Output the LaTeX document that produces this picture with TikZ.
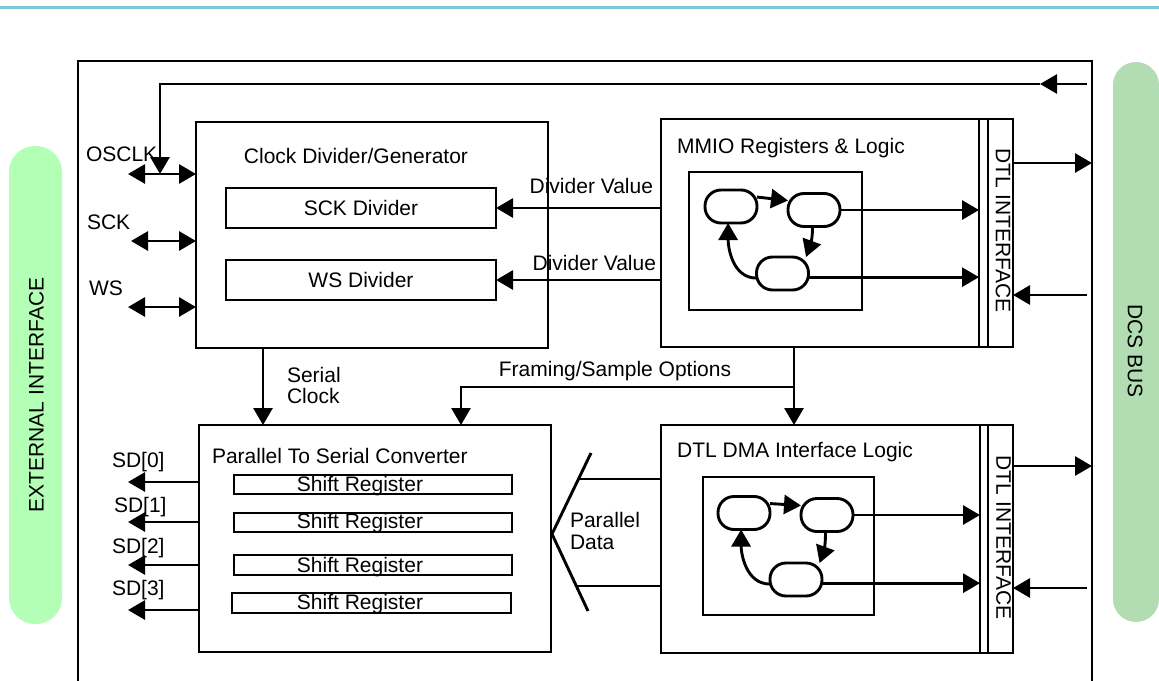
\documentclass[tikz,border=0pt]{standalone}
\usepackage{fontspec}
\setmainfont{Liberation Sans}
\usetikzlibrary{arrows.meta,calc}
\definecolor{toplinec}{RGB}{124,202,216}
\definecolor{extg}{RGB}{179,255,181}
\definecolor{dcsg}{RGB}{178,220,178}
\begin{document}
\begin{tikzpicture}[x=1pt,y=-1pt,
  every node/.style={font=\fontsize{21}{24}\selectfont, inner sep=0pt, outer sep=0pt},
  blk/.style={draw, line width=1.6pt, anchor=north west},
  thickbox/.style={draw, line width=2.9pt, anchor=north west},
  col/.style={draw=none, anchor=north west},
  state/.style={draw, line width=2.9pt, rounded corners=16pt, minimum width=52pt, minimum height=33pt},
  pill/.style={draw=none, anchor=north west},
  arr/.style={line width=2.9pt, -{Triangle[length=17pt,width=19pt]}},
  darr/.style={line width=2.9pt, {Triangle[length=17pt,width=19pt]}-{Triangle[length=17pt,width=19pt]}},
  plain/.style={line width=2.9pt},
  colline/.style={line width=2.2pt},
  lw/.style={anchor=base west},
  lc/.style={anchor=base},
  le/.style={anchor=base east}]
\useasboundingbox (0,0) rectangle (1159,680);
\clip (0,0) rectangle (1159,680);

% top rule
\draw[line width=3pt, toplinec] (0,7) -- (1159,7);

% side pills
\node[pill, fill=extg, rounded corners=26pt, minimum width=53pt, minimum height=478pt] (ext) at (9,146) {};
\node[rotate=90] (extt) at (36.5,395) {EXTERNAL INTERFACE};
\node[pill, fill=dcsg, rounded corners=23pt, minimum width=46pt, minimum height=560pt] (dcs) at (1113,62) {};
\node[rotate=-90] (dcst) at (1135,351) {DCS BUS};

% outer box
\node[blk, minimum width=1014pt, minimum height=640pt] (outer) at (78,61) {};

% clock divider
\node[blk, minimum width=352pt, minimum height=226pt] (clk) at (196,122) {};
\node[lc] (clkt) at (356,163) {Clock Divider/Generator};
\node[thickbox, minimum width=270pt, minimum height=40pt] (sckdiv) at (226,188) {SCK Divider};
\node[thickbox, minimum width=270pt, minimum height=40pt] (wsdiv) at (226,260) {WS Divider};

% MMIO
\node[blk, minimum width=352pt, minimum height=228pt] (mmio) at (661,119) {};
\node[lc] (mmiot) at (791,153) {MMIO Registers \& Logic};
\node[col, minimum width=34pt, minimum height=228pt] (dtlA) at (979,119) {};
\draw[colline] (dtlA.north west) -- (dtlA.south west);
\draw[colline] ($(dtlA.north west)+(9,0)$) -- ($(dtlA.south west)+(9,0)$);
\node[rotate=-90] (dtlAt) at (1003,230.5) {DTL INTERFACE};
\node[thickbox, minimum width=173pt, minimum height=138pt] (fsmA) at (689,172) {};
\node[state] (s1) at (731,206.5) {};
\node[state] (s2) at (814,210) {};
\node[state] (s3) at (782.5,273.5) {};
\draw[arr] (s1.20) -- (s2.160);
\draw[arr] (s2.-95) to[out=-90,in=70] (s3.35);
\draw[arr] (s3.190) to[out=180,in=-90] (s1.-100);
\draw[arr] (s2.east) -- (s2.east -| dtlA.west);
\draw[arr] (s3.-8) -- (s3.-8 -| dtlA.west);

% DMA
\node[blk, minimum width=352pt, minimum height=228pt] (dma) at (661,425) {};
\node[lc] (dmat) at (795,457) {DTL DMA Interface Logic};
\node[col, minimum width=33pt, minimum height=228pt] (dtlB) at (980,425) {};
\draw[colline] (dtlB.north west) -- (dtlB.south west);
\draw[colline] ($(dtlB.north west)+(8,0)$) -- ($(dtlB.south west)+(8,0)$);
\node[rotate=-90] (dtlBt) at (1003.5,537.5) {DTL INTERFACE};
\node[thickbox, minimum width=171pt, minimum height=138pt] (fsmB) at (703,477) {};
\node[state] (t1) at (744,513) {};
\node[state] (t2) at (827,515) {};
\node[state] (t3) at (796,579.5) {};
\draw[arr] (t1.20) -- (t2.160);
\draw[arr] (t2.-95) to[out=-90,in=70] (t3.35);
\draw[arr] (t3.190) to[out=180,in=-90] (t1.-100);
\draw[arr] (t2.east) -- (t2.east -| dtlB.west);
\draw[arr] (t3.-8) -- (t3.-8 -| dtlB.west);

% parallel to serial converter
\node[blk, minimum width=352pt, minimum height=227pt] (par) at (199,425) {};
\node[lw] (part) at (212,463) {Parallel To Serial Converter};
\node[thickbox, minimum width=278pt, minimum height=19pt] (sr1) at (234,475) {};
\node[thickbox, minimum width=278pt, minimum height=19pt] (sr2) at (234,513) {};
\node[thickbox, minimum width=278pt, minimum height=20pt] (sr3) at (234,555) {};
\node[thickbox, minimum width=279pt, minimum height=20pt] (sr4) at (232,593) {};
\node[lc] (sr1t) at (360,491) {Shift Register};
\node[lc] (sr2t) at (360,528) {Shift Register};
\node[lc] (sr3t) at (360,572) {Shift Register};
\node[lc] (sr4t) at (360,609) {Shift Register};

% left I/O
\node[lw] (oscl) at (86,161) {OSCLK};
\node[lw] (sckl) at (87,229) {SCK};
\node[lw] (wsl) at (89,295) {WS};
\coordinate (oscL) at (128,174);
\coordinate (sckL) at (131,241);
\coordinate (wsL) at (128,307);
\draw[darr] (oscL) -- (oscL -| clk.west);
\draw[darr] (sckL) -- (sckL -| clk.west);
\draw[darr] (wsL) -- (wsL -| clk.west);

% top feedback line
\coordinate (topR) at (1087,84);
\coordinate (topM) at (1040,84);
\coordinate (oscJ) at (160,174);
\draw[arr] (topR) -- (topM);
\draw[arr] (topM) -| (oscJ);

% divider values
\draw[arr] (mmio.west |- sckdiv.east) -- (sckdiv.east);
\draw[arr] (mmio.west |- wsdiv.east) -- (wsdiv.east);
\node[le] (dv1) at (653,193) {Divider Value};
\node[le] (dv2) at (656,270) {Divider Value};

% serial clock
\coordinate (scx) at (263,348);
\draw[arr] (scx) -- (scx |- par.north);
\node[lw] (sct1) at (287,382) {Serial};
\node[lw] (sct2) at (287,403) {Clock};

% framing
\coordinate (fj) at (794,387);
\coordinate (fx) at (461,387);
\draw[arr] (mmio.south -| fj) -- (dma.north -| fj);
\draw[arr] (fj) -- (fx) -- (fx |- par.north);
\node[lc] (fro) at (615,376) {Framing/Sample Options};

% SD outputs
\node[lw] (sd0l) at (112,467) {SD[0]};
\node[lw] (sd1l) at (114,512) {SD[1]};
\node[lw] (sd2l) at (112,553) {SD[2]};
\node[lw] (sd3l) at (112,595) {SD[3]};
\coordinate (sd0) at (128,482);
\coordinate (sd1) at (128,522);
\coordinate (sd2) at (128,565);
\coordinate (sd3) at (128,610);
\draw[arr] (sd0 -| par.west) -- (sd0);
\draw[arr] (sd1 -| par.west) -- (sd1);
\draw[arr] (sd2 -| par.west) -- (sd2);
\draw[arr] (sd3 -| par.west) -- (sd3);

% parallel data chevron
\coordinate (cu) at (591,453);
\coordinate (cv) at (552,534);
\coordinate (cl) at (588,611);
\draw[plain] (cu) -- (cv) -- (cl);
\coordinate (pd1) at (578.5,479);
\coordinate (pd2) at (576,586);
\draw[plain] (pd1) -- (pd1 -| dma.west);
\draw[plain] (pd2) -- (pd2 -| dma.west);
\node[lw] (pdt1) at (570,527) {Parallel};
\node[lw] (pdt2) at (570,549) {Data};

% bus connections
\coordinate (bo1) at (1092,163);
\coordinate (bi1) at (1087,295);
\coordinate (bo2) at (1092,466);
\coordinate (bi2) at (1087,588);
\draw[arr] (bo1 -| dtlA.east) -- (bo1);
\draw[arr] (bi1) -- (bi1 -| dtlA.east);
\draw[arr] (bo2 -| dtlB.east) -- (bo2);
\draw[arr] (bi2) -- (bi2 -| dtlB.east);
\end{tikzpicture}
\end{document}
